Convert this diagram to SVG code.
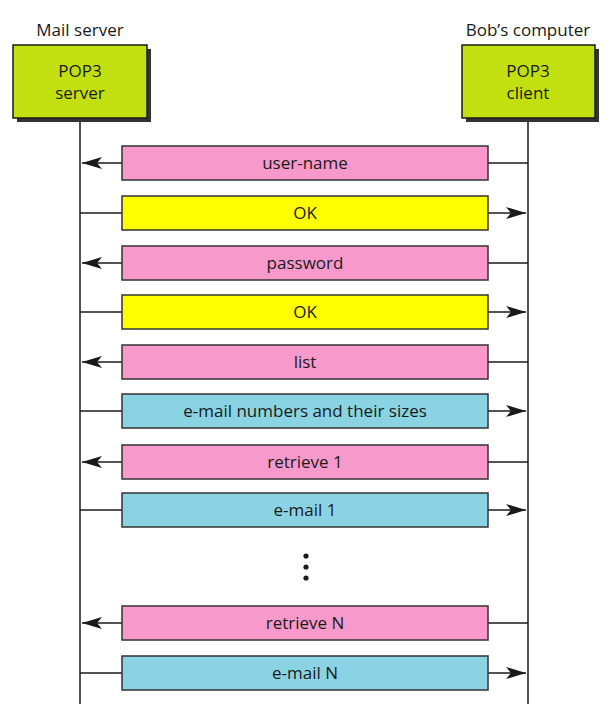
<svg xmlns="http://www.w3.org/2000/svg" width="612" height="719" viewBox="0 0 612 719">
<style>
text{font-family:"Open Sans","Liberation Sans",sans-serif;fill:#1a1a1a;text-anchor:middle}
.cap{font-size:17px}
.ent{fill:#c2e00f;stroke:#1a1a1a;stroke-width:1.5}
.sh{fill:#333}
.msg{stroke:#333;stroke-width:1.5}
.pk{fill:#f79acb}.yl{fill:#ffff00}.bl{fill:#89d3e3}
.lbl{font-size:17px}
.ln{stroke:#1a1a1a;stroke-width:1.6;fill:none}
.life{stroke:#1a1a1a;stroke-width:1.5}
</style>
<defs>
<marker id="ah" viewBox="0 0 20 12" refX="20" refY="6" markerWidth="20" markerHeight="12" markerUnits="userSpaceOnUse" orient="auto">
<path d="M0,0 L20,6 L0,12 L5,6 Z" fill="#1a1a1a"/>
</marker>
</defs>
<rect width="612" height="719" fill="#fff"/>
<g id="lifelines">
<line class="life" x1="80" y1="118" x2="80" y2="704"/>
<line class="life" x1="528" y1="118" x2="528" y2="704"/>
</g>
<g id="mailserver">
<text class="cap" x="80" y="36">Mail server</text>
<rect class="sh" x="17" y="49" width="134" height="73"/>
<rect class="ent" x="13" y="45" width="134" height="73"/>
<text class="cap" x="80" y="77">POP3</text>
<text class="cap" x="80" y="99">server</text>
</g>
<g id="bobcomputer">
<text class="cap" x="528" y="36">Bob’s computer</text>
<rect class="sh" x="466" y="49" width="133" height="73"/>
<rect class="ent" x="462" y="45" width="133" height="73"/>
<text class="cap" x="528" y="77">POP3</text>
<text class="cap" x="528" y="99">client</text>
</g>
<g id="connectors">
<line class="ln" x1="528" y1="163" x2="82" y2="163" marker-end="url(#ah)"/>
<line class="ln" x1="80" y1="213" x2="526" y2="213" marker-end="url(#ah)"/>
<line class="ln" x1="528" y1="263" x2="82" y2="263" marker-end="url(#ah)"/>
<line class="ln" x1="80" y1="312" x2="526" y2="312" marker-end="url(#ah)"/>
<line class="ln" x1="528" y1="362" x2="82" y2="362" marker-end="url(#ah)"/>
<line class="ln" x1="80" y1="411" x2="526" y2="411" marker-end="url(#ah)"/>
<line class="ln" x1="528" y1="462" x2="82" y2="462" marker-end="url(#ah)"/>
<line class="ln" x1="80" y1="510" x2="526" y2="510" marker-end="url(#ah)"/>
<line class="ln" x1="528" y1="623" x2="82" y2="623" marker-end="url(#ah)"/>
<line class="ln" x1="80" y1="673" x2="526" y2="673" marker-end="url(#ah)"/>
</g>
<g id="m1"><rect class="msg pk" x="122" y="146" width="366" height="34"/><text class="lbl" x="305" y="169">user-name</text></g>
<g id="m2"><rect class="msg yl" x="122" y="196" width="366" height="34"/><text class="lbl" x="305" y="219">OK</text></g>
<g id="m3"><rect class="msg pk" x="122" y="246" width="366" height="34"/><text class="lbl" x="305" y="269">password</text></g>
<g id="m4"><rect class="msg yl" x="122" y="295" width="366" height="34"/><text class="lbl" x="305" y="318">OK</text></g>
<g id="m5"><rect class="msg pk" x="122" y="345" width="366" height="34"/><text class="lbl" x="305" y="368">list</text></g>
<g id="m6"><rect class="msg bl" x="122" y="394" width="366" height="34"/><text class="lbl" x="305" y="417">e-mail numbers and their sizes</text></g>
<g id="m7"><rect class="msg pk" x="122" y="445" width="366" height="34"/><text class="lbl" x="305" y="468">retrieve 1</text></g>
<g id="m8"><rect class="msg bl" x="122" y="493" width="366" height="34"/><text class="lbl" x="305" y="516">e-mail 1</text></g>
<g id="dots" fill="#1a1a1a">
<circle cx="306" cy="556" r="2.6"/>
<circle cx="306" cy="567" r="2.6"/>
<circle cx="306" cy="578" r="2.6"/>
</g>
<g id="m9"><rect class="msg pk" x="122" y="606" width="366" height="34"/><text class="lbl" x="305" y="629">retrieve N</text></g>
<g id="m10"><rect class="msg bl" x="122" y="656" width="366" height="34"/><text class="lbl" x="305" y="679">e-mail N</text></g>
</svg>
